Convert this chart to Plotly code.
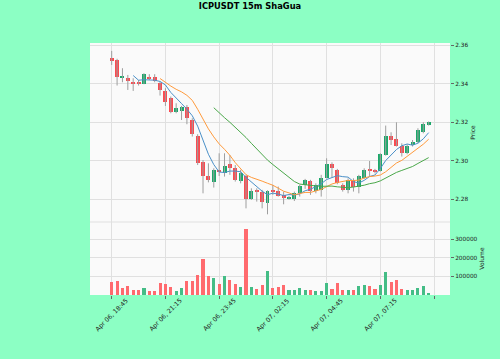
import plotly.graph_objects as go
import pandas as pd

# ---------------- data ----------------
opens = [2.3533, 2.3524, 2.3431, 2.3432, 2.3406, 2.3411, 2.3401, 2.3437, 2.3437, 2.3403,
         2.3363, 2.3325, 2.3252, 2.3259, 2.3282, 2.3212, 2.3131, 2.2992, 2.2923, 2.2892,
         2.2950, 2.2939, 2.2982, 2.2961, 2.2895, 2.2921, 2.2800, 2.2845, 2.2840, 2.2779,
         2.2845, 2.2843, 2.2823, 2.2805, 2.2802, 2.2831, 2.2875, 2.2895, 2.2845, 2.2849,
         2.2913, 2.2982, 2.2951, 2.2875, 2.2849, 2.2901, 2.2866, 2.2909, 2.2953, 2.2953,
         2.2947, 2.3030, 2.3131, 2.3112, 2.3079, 2.3039, 2.3082, 2.3100, 2.3152, 2.3190]
highs = [2.3571, 2.3530, 2.3481, 2.3446, 2.3429, 2.3420, 2.3455, 2.3450, 2.3450, 2.3411,
         2.3377, 2.3334, 2.3299, 2.3285, 2.3290, 2.3221, 2.3138, 2.3004, 2.2987, 2.2961,
         2.3039, 2.3039, 2.3030, 2.2978, 2.2953, 2.2927, 2.2857, 2.2857, 2.2849, 2.2847,
         2.2875, 2.2866, 2.2840, 2.2818, 2.2840, 2.2875, 2.2906, 2.2901, 2.2883, 2.2927,
         2.3013, 2.2992, 2.2958, 2.2883, 2.2909, 2.2909, 2.2927, 2.2961, 2.2999, 2.2958,
         2.3039, 2.3183, 2.3148, 2.3200, 2.3091, 2.3086, 2.3108, 2.3169, 2.3200, 2.3204]
lows = [2.3498, 2.3391, 2.3408, 2.3368, 2.3363, 2.3391, 2.3398, 2.3420, 2.3408, 2.3339,
        2.3285, 2.3247, 2.3247, 2.3212, 2.3190, 2.3126, 2.2978, 2.2831, 2.2888, 2.2861,
        2.2921, 2.2918, 2.2927, 2.2892, 2.2883, 2.2753, 2.2797, 2.2788, 2.2753, 2.2722,
        2.2823, 2.2814, 2.2774, 2.2798, 2.2791, 2.2814, 2.2854, 2.2823, 2.2831, 2.2814,
        2.2909, 2.2913, 2.2878, 2.2840, 2.2831, 2.2840, 2.2831, 2.2906, 2.2918, 2.2935,
        2.2944, 2.3027, 2.3082, 2.3074, 2.3022, 2.3034, 2.3074, 2.3091, 2.3143, 2.3183]
closes = [2.3521, 2.3437, 2.3441, 2.3415, 2.3401, 2.3399, 2.3450, 2.3429, 2.3415, 2.3368,
          2.3308, 2.3256, 2.3273, 2.3282, 2.3221, 2.3138, 2.2987, 2.2923, 2.2901, 2.2953,
          2.2945, 2.2973, 2.2961, 2.2901, 2.2935, 2.2800, 2.2845, 2.2842, 2.2788, 2.2843,
          2.2842, 2.2819, 2.2805, 2.2814, 2.2831, 2.2871, 2.2901, 2.2843, 2.2875, 2.2913,
          2.2982, 2.2961, 2.2883, 2.2849, 2.2901, 2.2866, 2.2923, 2.2953, 2.2949, 2.2940,
          2.3034, 2.3131, 2.3108, 2.3079, 2.3039, 2.3079, 2.3100, 2.3160, 2.3192, 2.3200]
volumes = [67900, 77000, 37800, 46700, 27100, 27100, 37800, 23500, 23500, 64500,
           60900, 41300, 21700, 37800, 73400, 77000, 109100, 194700, 103700, 91300,
           60900, 100100, 82300, 60900, 44900, 355100, 43100, 34200, 55600, 128700,
           39600, 41300, 55600, 28900, 28900, 37800, 27100, 28900, 23500, 23500,
           64500, 32400, 64500, 27100, 27100, 28900, 50300, 52100, 48500, 34200,
           55600, 123300, 69900, 80600, 32400, 25300, 28900, 37800, 50300, 7500]
volume_up = [False, False, False, False, False, False, True, False, False, False,
             False, False, True, True, False, False, False, False, False, True,
             False, True, False, False, True, False, True, False, False, True,
             False, False, False, True, True, True, True, False, True, True,
             True, False, False, False, True, False, True, True, False, False,
             True, True, False, False, False, True, True, True, True, True]
tick_labels = ["Apr 06, 18:45", "Apr 06, 21:15", "Apr 06, 23:45",
               "Apr 07, 02:15", "Apr 07, 04:45", "Apr 07, 07:15"]
ma_periods = [5, 10, 20]
price_ticks = [2.28, 2.30, 2.32, 2.34, 2.36]
volume_ticks = [100000, 200000, 300000]

# ---------------- styling ----------------
BG = "#8CFFC4"
PLOT_BG = "#fafafa"
GRID = "#e0e0e0"
UP = "#1aa86a"
DOWN = "#fb4a50"
VUP = "#44bd86"
VDOWN = "#ff6a6e"
WICK = "#9e9e9e"
MA_COLORS = ["#4a90c8", "#ff9a3c", "#4aa84a"]
FONT = "DejaVu Sans"

idx = list(range(len(closes)))
fig = go.Figure()

# wicks
wx, wy = [], []
for i, (h, l) in enumerate(zip(highs, lows)):
    wx += [i, i, None]
    wy += [l, h, None]
fig.add_trace(go.Scatter(x=wx, y=wy, mode="lines", line=dict(color=WICK, width=1),
                         xaxis="x", yaxis="y", hoverinfo="skip", showlegend=False))

# candle bodies
base = [min(o, c) for o, c in zip(opens, closes)]
height = [max(abs(c - o), 0.00005) for o, c in zip(opens, closes)]
body_colors = [UP if c >= o else DOWN for o, c in zip(opens, closes)]
fig.add_trace(go.Bar(x=idx, y=height, base=base, width=0.74,
                     marker=dict(color=body_colors, line=dict(width=0)),
                     xaxis="x", yaxis="y", showlegend=False))

# moving averages
s = pd.Series(closes)
for p, col in zip(ma_periods, MA_COLORS):
    fig.add_trace(go.Scatter(x=idx, y=s.rolling(p).mean(), mode="lines",
                             line=dict(color=col, width=1), xaxis="x", yaxis="y",
                             showlegend=False))

# volume
fig.add_trace(go.Bar(x=idx, y=volumes, width=0.58,
                     marker=dict(color=[VUP if u else VDOWN for u in volume_up],
                                 line=dict(width=0)),
                     xaxis="x2", yaxis="y2", showlegend=False))

split = (295 - 222) / 252.0
xr = [-4.04, 62.97]
tickvals = [10 * k for k in range(len(tick_labels) + 1)]

common_x = dict(range=xr, tickvals=tickvals, showgrid=True, gridcolor=GRID, gridwidth=1.2,
                zeroline=False, showline=False)
fig.update_layout(
    width=500, height=359,
    margin=dict(l=90, r=50, t=43, b=64),
    paper_bgcolor=BG, plot_bgcolor=PLOT_BG,
    showlegend=False,
    bargap=0,
    font=dict(family=FONT, color="#222"),
    title=dict(text="<b>ICPUSDT 15m ShaGua</b>", x=0.5, xref="container",
               y=1 - 6.5 / 359, yref="container", yanchor="middle", xanchor="center",
               font=dict(family=FONT, size=8.3, color="#000")),
    xaxis=dict(domain=[0, 1], anchor="y", showticklabels=False, ticks="", **common_x),
    xaxis2=dict(domain=[0, 1], anchor="y2", showticklabels=False, ticks="outside",
                ticklen=3, tickcolor="#666", tickwidth=1, **common_x),
    yaxis=dict(domain=[split, 1], range=[2.2682, 2.3612], side="right",
               tickvals=price_ticks, ticktext=[f"{v:.2f}" for v in price_ticks],
               ticks="outside", ticklen=3, tickcolor="#666",
               tickfont=dict(size=5.8, color="#222"),
               showgrid=True, gridcolor=GRID, gridwidth=1.2, zeroline=False,
               title=dict(text="Price", standoff=3, font=dict(size=6, color="#222"))),
    yaxis2=dict(domain=[0, split], range=[0, 392000], side="right",
                tickvals=volume_ticks, ticktext=[str(v) for v in volume_ticks],
                ticks="outside", ticklen=3, tickcolor="#666",
                tickfont=dict(size=5.8, color="#222"),
                showgrid=True, gridcolor=GRID, gridwidth=1.2, zeroline=False,
                title=dict(text="Volume", standoff=3, font=dict(size=6, color="#222"))),
)

# panel separator
fig.add_shape(type="line", xref="paper", yref="paper", x0=0, x1=1, y0=split, y1=split,
              line=dict(color=GRID, width=1.2))

# rotated x tick labels centred on ticks
for k, lab in enumerate(tick_labels):
    fig.add_annotation(x=tickvals[k], xref="x2", y=(295 - 314.7) / 252.0, yref="paper",
                       text=lab, showarrow=False, textangle=-45,
                       xanchor="center", yanchor="middle",
                       font=dict(family=FONT, size=6.3, color="#222"))

fig.write_html("out.html")
